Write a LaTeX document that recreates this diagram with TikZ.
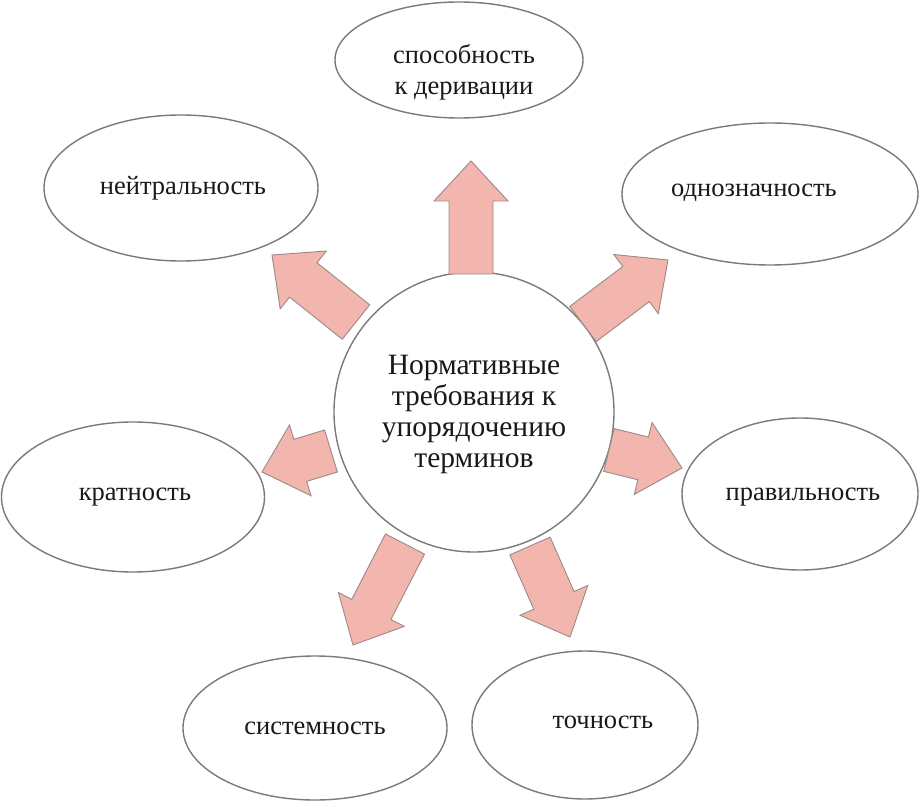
\documentclass[tikz,border=0pt]{standalone}
\usepackage{fontspec}
\setmainfont{Liberation Serif}
\usetikzlibrary{shapes.geometric,calc}
\definecolor{arrfill}{HTML}{F2B6AF}
\definecolor{arrline}{HTML}{9C8886}
\definecolor{ellline}{HTML}{7A7A7A}
\tikzset{
  oval/.style={ellipse, draw=ellline, line width=1.4pt, fill=white, inner sep=0pt},
  lbl/.style={font=\fontsize{26.5}{31}\selectfont, text=black!90, align=center},
  blockarr/.style={fill=arrfill, draw=arrline, line width=0.9pt, line join=miter},
}
\newcommand\blkarrow[2]{%
  \coordinate (B) at ($(#2)!40pt!(#1)$);
  \draw[blockarr] ($(#1)!22pt!90:(#2)$) -- ($(B)!22pt!90:(#2)$) -- ($(B)!37pt!90:(#2)$) -- (#2)
     -- ($(B)!37pt!-90:(#2)$) -- ($(B)!22pt!-90:(#2)$) -- ($(#1)!22pt!-90:(#2)$) -- cycle;}
\begin{document}
\begin{tikzpicture}[x=1pt,y=-1pt]
\useasboundingbox (0,0) rectangle (921,802);
% center
\node[circle, draw=ellline, line width=1.4pt, fill=white, minimum size=280pt, inner sep=0pt] (c) at (474,412) {};
\node[lbl, font=\fontsize{29.5}{31}\selectfont] (ct) at (474,414) {Нормативные\\требования к\\упорядочению\\терминов};
% outer ellipses
\node[oval, minimum width=248pt, minimum height=116pt] (e1) at (459,60) {};
\node[oval, minimum width=274pt, minimum height=146pt] (e2) at (181,188) {};
\node[oval, minimum width=296pt, minimum height=142pt] (e3) at (770,194) {};
\node[oval, minimum width=263pt, minimum height=150pt] (e4) at (133,497) {};
\node[oval, minimum width=236pt, minimum height=152pt] (e5) at (800,494) {};
\node[oval, minimum width=264pt, minimum height=144pt] (e6) at (315,728) {};
\node[oval, minimum width=226pt, minimum height=148pt] (e7) at (585,725) {};
% labels
\node[lbl] (t1) at (464,72) {способность\\к деривации};
\node[lbl] (t2) at (183,188) {нейтральность};
\node[lbl] (t3) at (754,193) {однозначность};
\node[lbl] (t4) at (135,497) {кратность};
\node[lbl] (t5) at (803,497) {правильность};
\node[lbl] (t6) at (315,728) {системность};
\node[lbl] (t7) at (603,722) {точность};
% arrows
\coordinate (a1s) at (471,274); \coordinate (a1e) at (471,161);
\coordinate (a2s) at (356,322); \coordinate (a2e) at (272,255);
\coordinate (a3s) at (583,324); \coordinate (a3e) at (668,260);
\coordinate (a4s) at (331,451); \coordinate (a4e) at (262,472);
\coordinate (a5s) at (609,450); \coordinate (a5e) at (682,468);
\coordinate (a6s) at (405,544); \coordinate (a6e) at (353,645);
\coordinate (a7s) at (530,546); \coordinate (a7e) at (570,637);
\blkarrow{a1s}{a1e}
\blkarrow{a2s}{a2e}
\blkarrow{a3s}{a3e}
\blkarrow{a4s}{a4e}
\blkarrow{a5s}{a5e}
\blkarrow{a6s}{a6e}
\blkarrow{a7s}{a7e}
\end{tikzpicture}
\end{document}
